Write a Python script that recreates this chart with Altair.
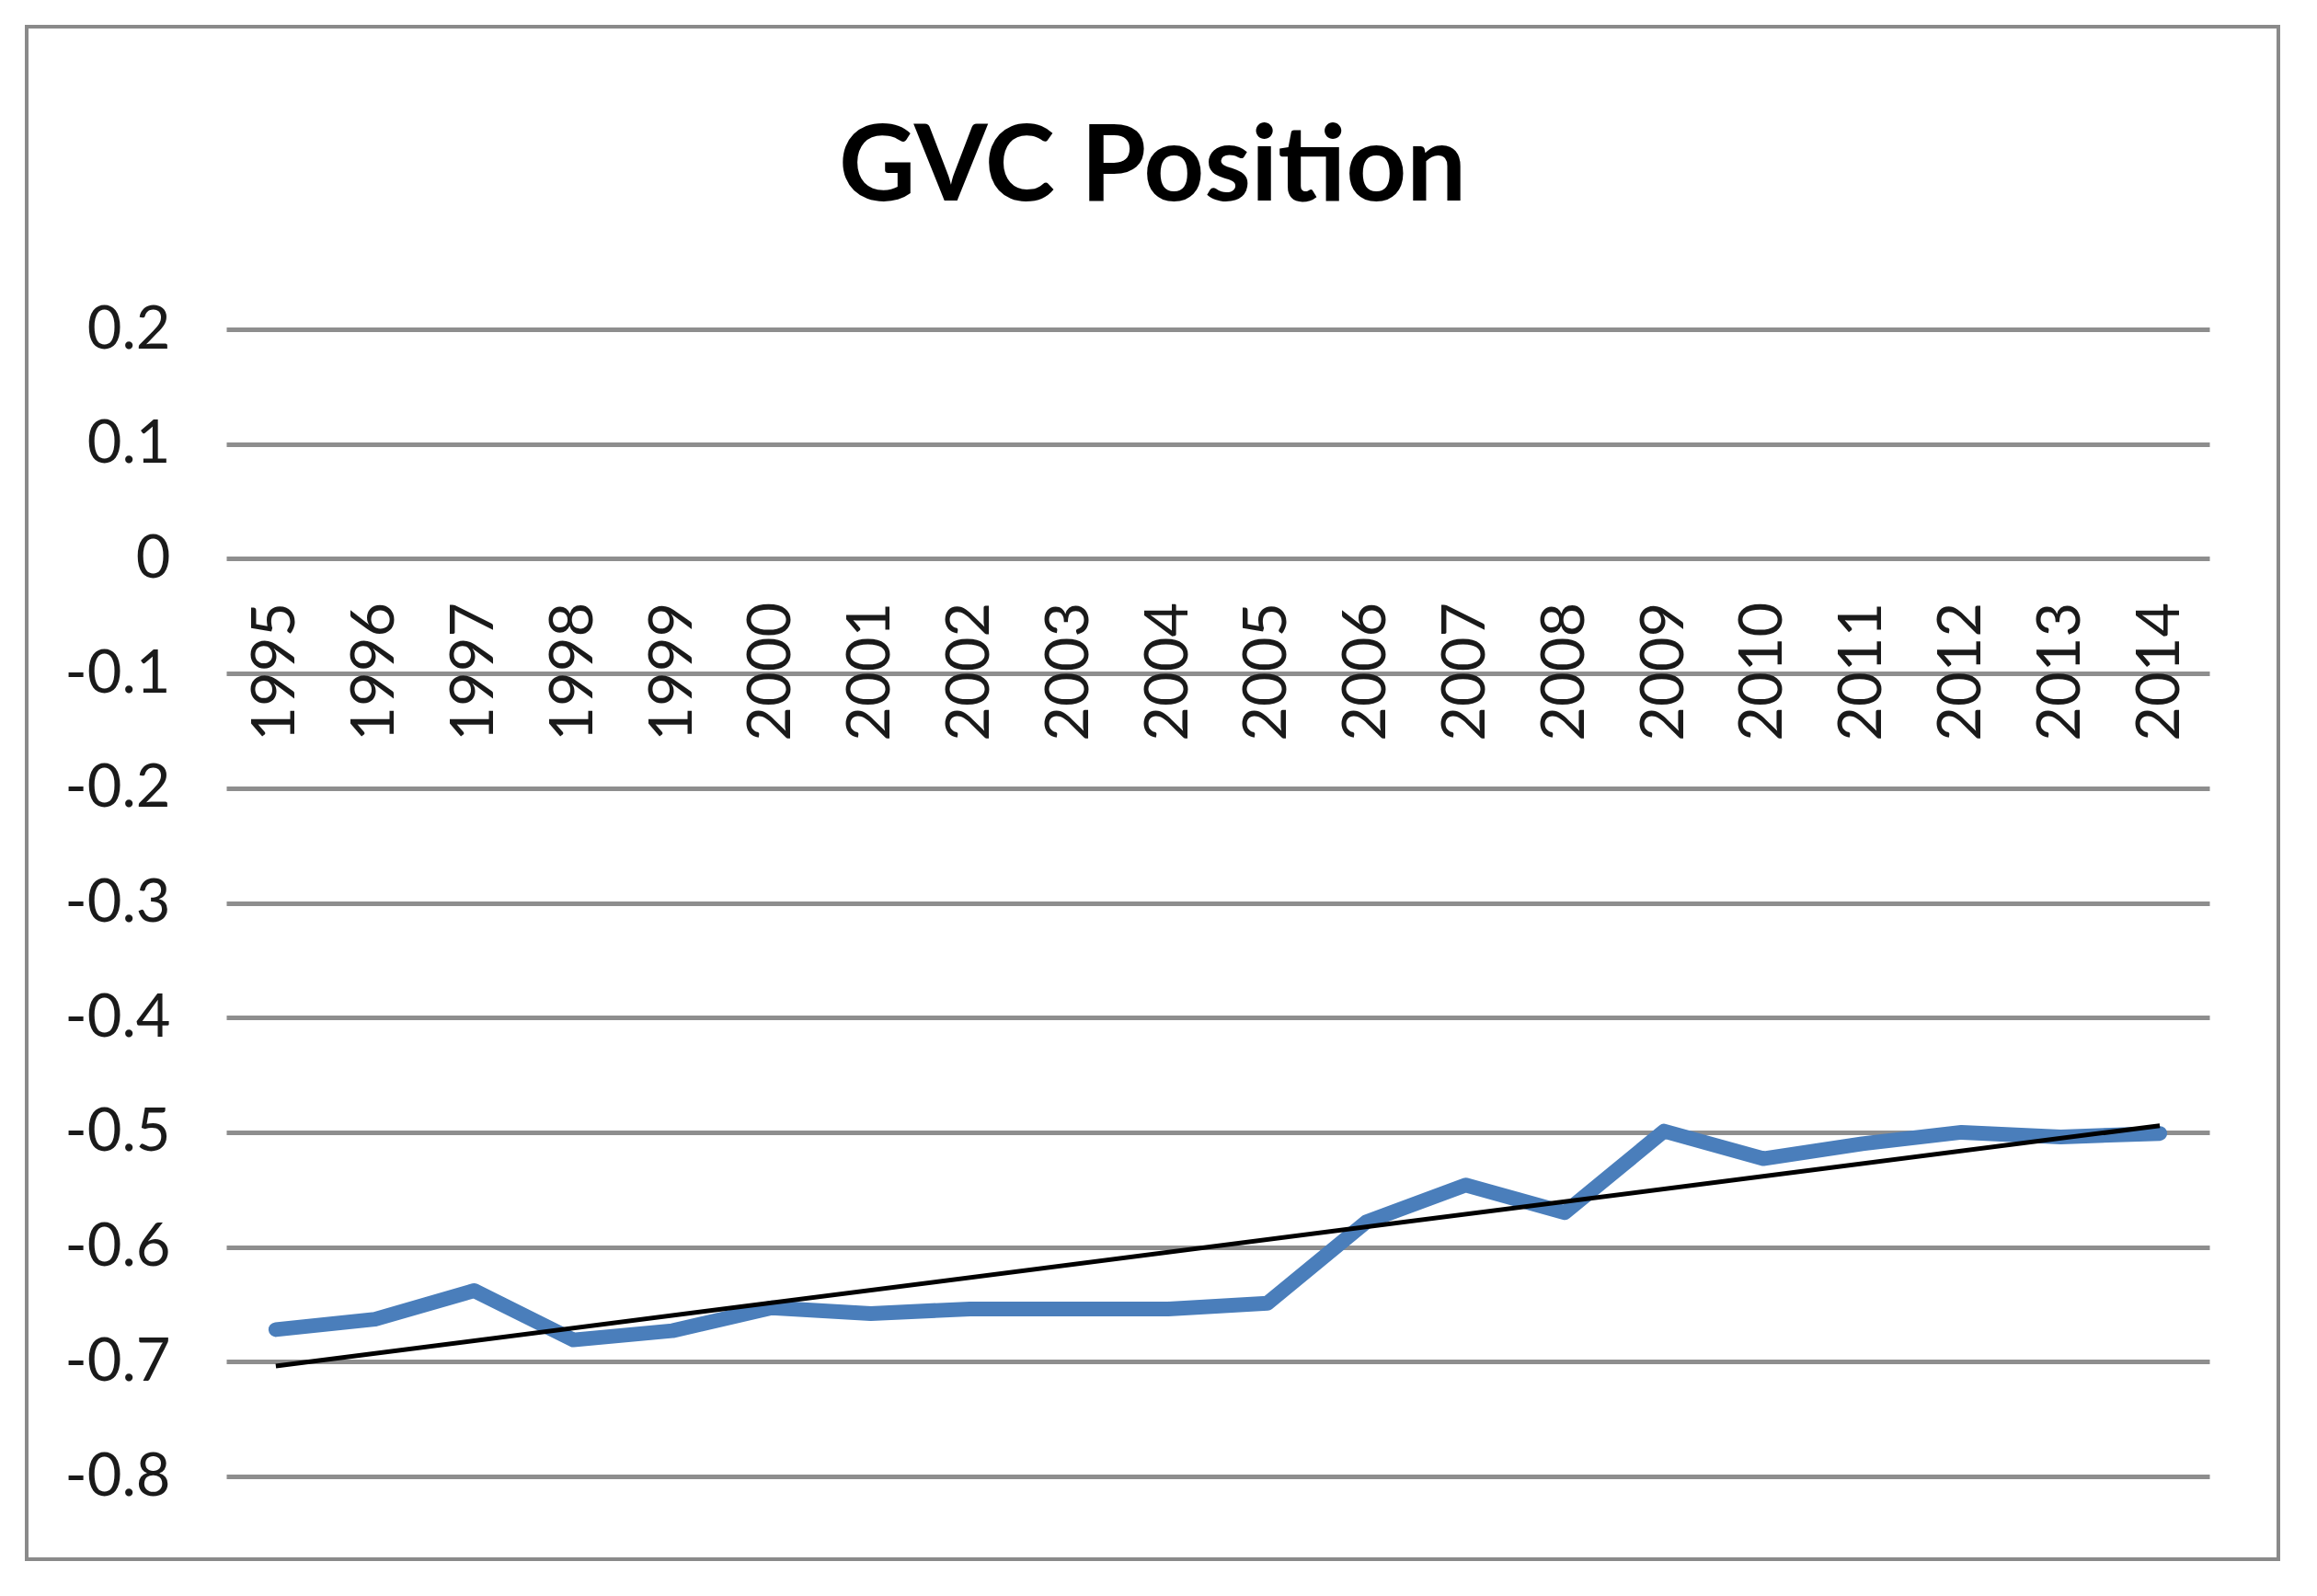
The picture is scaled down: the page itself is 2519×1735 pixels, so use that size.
import altair as alt
import pandas as pd

# ---- data ----
years = list(range(1995, 2015))
gvc_position = [-0.672, -0.663, -0.638, -0.681, -0.673, -0.653, -0.658, -0.654, -0.654, -0.654,
                -0.649, -0.578, -0.546, -0.570, -0.499, -0.523, -0.510, -0.500, -0.504, -0.501]
y_ticks = [0.2, 0.1, 0.0, -0.1, -0.2, -0.3, -0.4, -0.5, -0.6, -0.7, -0.8]
chart_title = "GVC Position"

df = pd.DataFrame({"Year": years, "GVC Position": gvc_position})

W, H = 2156, 1247
FONT = "Lato"
GRID = "#8e8e8e"

x_enc = alt.X(
    "Year:Q",
    scale=alt.Scale(domain=[1994.5, 2014.5], nice=False, zero=False),
    axis=alt.Axis(
        values=years, format="d", title=None,
        labelAngle=270, labelAlign="right", labelBaseline="middle",
        labelPadding=47, offset=-0.8 * H,
        domain=False, ticks=False, grid=False,
        labelFont=FONT, labelFontSize=65, labelColor="#1a1a1a",
        labelOverlap=False, labelFlush=False,
    ),
)
y_enc = alt.Y(
    "GVC Position:Q",
    scale=alt.Scale(domain=[-0.8, 0.2], nice=False, zero=False),
    axis=alt.Axis(
        values=y_ticks, title=None,
        labelExpr="abs(datum.value) < 1e-9 ? '0' : (datum.value < 0 ? '-' + format(-datum.value, '.1f') : format(datum.value, '.1f'))",
        grid=True, gridColor=GRID, gridWidth=5,
        domain=False, ticks=False, labelPadding=61,
        labelFont=FONT, labelFontSize=65, labelColor="#1a1a1a",
        labelFlush=False,
    ),
)

base = alt.Chart(df).encode(x=x_enc, y=y_enc)

series = base.mark_line(color="#4A7EBB", strokeWidth=16, strokeJoin="round", strokeCap="round")
trend = base.transform_regression("Year", "GVC Position").mark_line(color="#000000", strokeWidth=5)

border = alt.Chart(pd.DataFrame({"k": [0]})).mark_rect(
    fillOpacity=0, stroke="#8a8a8a", strokeWidth=4
).encode(
    x=alt.value(-217), x2=alt.value(2231), y=alt.value(-329), y2=alt.value(1337)
)

chart = alt.layer(border, series, trend).properties(
    width=W, height=H,
    padding={"left": 238, "top": 350, "right": 80, "bottom": 100},
    autosize=alt.AutoSizeParams(type="none"),
    title=alt.TitleParams(
        chart_title, font=FONT, fontSize=115, fontWeight="bold", color="#000000",
        anchor="middle", frame="group", dx=-71, baseline="alphabetic", offset=0, dy=306,
    ),
).configure_view(stroke=None)

chart.save("out.html", embed_options={"renderer": "svg", "actions": False})
